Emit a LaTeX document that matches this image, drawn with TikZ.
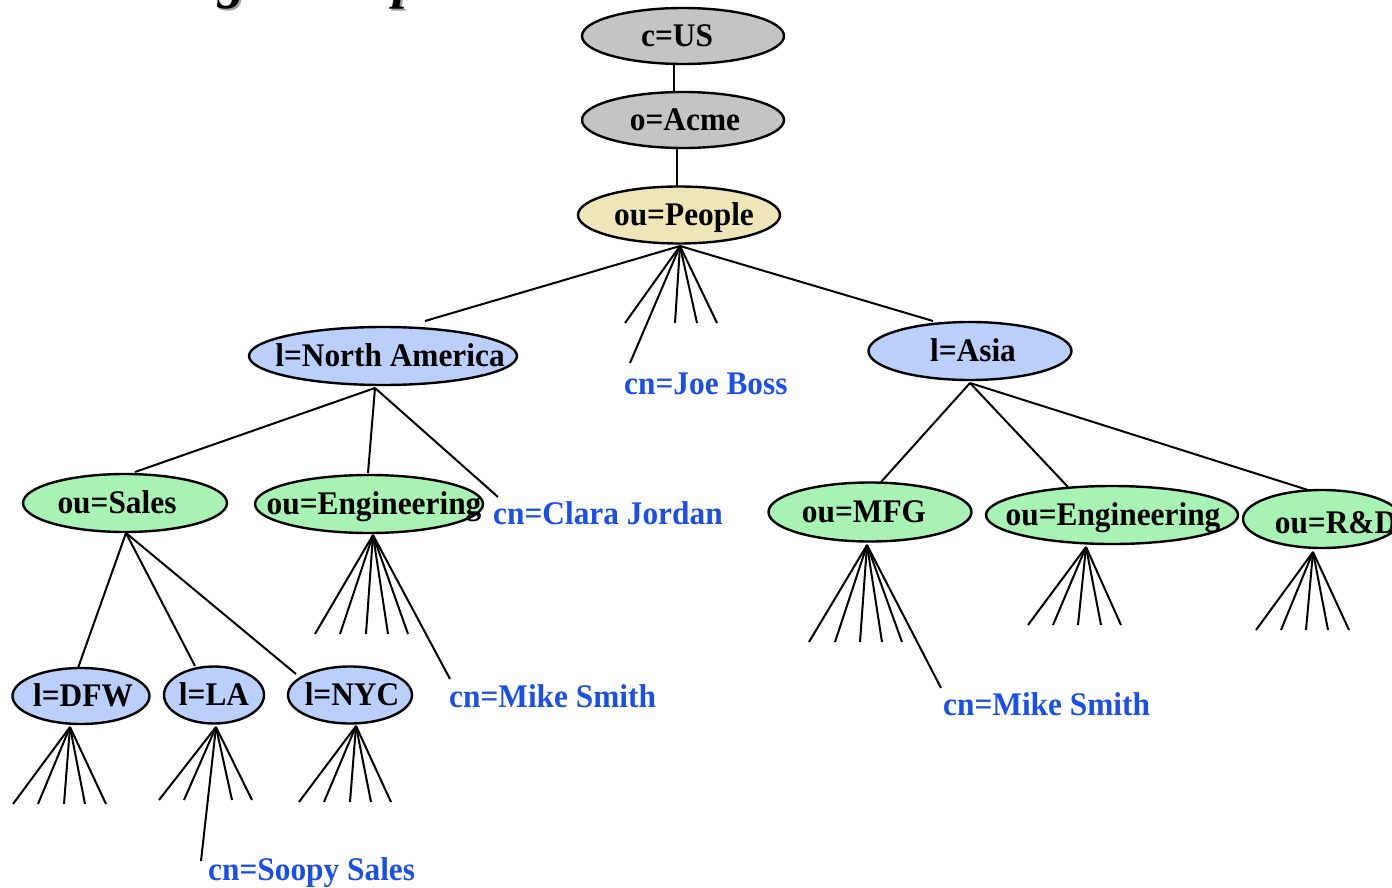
\documentclass[tikz,border=0pt]{standalone}
\usepackage{fontspec}
\setmainfont{Liberation Serif}
\newfontfamily\lblfont[FakeStretch=0.95]{Liberation Serif}
\usetikzlibrary{shapes.geometric}
\definecolor{grayfill}{HTML}{C4C4C4}
\definecolor{beigefill}{HTML}{EEE6B9}
\definecolor{bluefill}{HTML}{BBCFFB}
\definecolor{greenfill}{HTML}{A8F2B4}
\definecolor{leafblue}{HTML}{1A4FE8}
\definecolor{shadowgray}{HTML}{A0A0A0}
\begin{document}
\begin{tikzpicture}[x=1pt,y=-1pt,
  ell/.style={ellipse, draw=black, line width=2.4pt, inner sep=0pt,
    text height=21.8pt, text depth=0pt, font=\fontsize{33}{38}\lblfont\bfseries},
  lbl/.style={inner sep=0pt, text height=21.8pt, text depth=0pt,
    font=\fontsize{33}{38}\lblfont\bfseries},
  leaf/.style={anchor=west, inner sep=0pt, text=leafblue, text height=21.8pt,
    text depth=0pt, font=\fontsize{33}{38}\lblfont\bfseries},
  conn/.style={line width=2pt},
  titlefont/.style={anchor=base west, inner sep=0pt,
    font=\fontsize{55}{60}\selectfont\bfseries\itshape}]
\useasboundingbox (0,0) rectangle (1392,888);

% title (only its lower part is visible)
\node[titlefont, text=shadowgray] (titleshadow) at (64,0) {Naming Example};
\node[titlefont] (title) at (62,-2) {Naming Example};

% ---------- connectors ----------
\coordinate (usB) at (674,64);   \coordinate (acT) at (674,96);
\coordinate (acB) at (677,148);  \coordinate (peT) at (677,186);
\draw[conn] (usB) -- (acT);
\draw[conn] (acB) -- (peT);

% People fan
\coordinate (pA) at (680,246);
\coordinate (naT) at (425,321);
\coordinate (asT) at (933,321);
\coordinate (joe) at (630,363);
\draw[conn] (pA) -- (naT);
\draw[conn] (pA) -- (asT);
\draw[conn] (pA) -- (joe);
\foreach \x [count=\i] in {625,675,697,717} {
  \coordinate (pf\i) at (\x,323);
  \draw[conn] (pA) -- (pf\i);
}

% North America
\coordinate (naA) at (375,388);
\coordinate (saT) at (135,472);
\coordinate (enT) at (368,473);
\coordinate (clara) at (498,497);
\draw[conn] (naA) -- (saT);
\draw[conn] (naA) -- (enT);
\draw[conn] (naA) -- (clara);

% Sales
\coordinate (saA) at (126,533);
\coordinate (dfwT) at (78,668);
\coordinate (laT) at (195,666);
\coordinate (nycT) at (296,674);
\draw[conn] (saA) -- (dfwT);
\draw[conn] (saA) -- (laT);
\draw[conn] (saA) -- (nycT);

% Engineering (NA) fan
\coordinate (enA) at (373,535);
\coordinate (mike1) at (450,679);
\draw[conn] (enA) -- (mike1);
\foreach \x [count=\i] in {315,340,366,388,408} {
  \coordinate (ef\i) at (\x,634);
  \draw[conn] (enA) -- (ef\i);
}

% DFW, LA, NYC fans
\coordinate (dfwA) at (70,727);
\foreach \x [count=\i] in {13,38,64,85,106} {
  \coordinate (df\i) at (\x,804);
  \draw[conn] (dfwA) -- (df\i);
}
\coordinate (laA) at (216,727);
\coordinate (soopy) at (201,861);
\draw[conn] (laA) -- (soopy);
\foreach \x [count=\i] in {159,184,232,252} {
  \coordinate (lf\i) at (\x,800);
  \draw[conn] (laA) -- (lf\i);
}
\coordinate (nycA) at (356,726);
\foreach \x [count=\i] in {299,324,350,371,391} {
  \coordinate (nf\i) at (\x,802);
  \draw[conn] (nycA) -- (nf\i);
}

% Asia
\coordinate (asA) at (970,383);
\coordinate (mfgT) at (881,482);
\coordinate (eaT) at (1068,487);
\coordinate (rdT) at (1308,490);
\draw[conn] (asA) -- (mfgT);
\draw[conn] (asA) -- (eaT);
\draw[conn] (asA) -- (rdT);

% MFG fan
\coordinate (mfA) at (867,545);
\coordinate (mike2) at (941,688);
\draw[conn] (mfA) -- (mike2);
\foreach \x [count=\i] in {809,835,860,882,902} {
  \coordinate (mf\i) at (\x,642);
  \draw[conn] (mfA) -- (mf\i);
}
% Engineering (Asia) fan
\coordinate (eaA) at (1086,547);
\foreach \x [count=\i] in {1028,1053,1078,1101,1121} {
  \coordinate (ea\i) at (\x,625);
  \draw[conn] (eaA) -- (ea\i);
}
% R&D fan
\coordinate (rdA) at (1313,552);
\foreach \x [count=\i] in {1256,1281,1306,1328,1349} {
  \coordinate (rf\i) at (\x,630);
  \draw[conn] (rdA) -- (rf\i);
}

% ---------- ellipses ----------
\node[ell, fill=grayfill, minimum width=202pt, minimum height=56pt] (us) at (683,36) {\makebox[0pt]{\hspace*{-12pt}c=US}};
\node[ell, fill=grayfill, minimum width=202pt, minimum height=56pt] (acme) at (683,120) {\makebox[0pt]{\hspace*{4pt}o=Acme}};
\node[ell, fill=beigefill, minimum width=202pt, minimum height=57pt] (people) at (679,215) {\makebox[0pt]{\hspace*{10pt}ou=People}};
\node[ell, fill=bluefill, minimum width=268pt, minimum height=58pt] (na) at (383,356) {\makebox[0pt]{\hspace*{14pt}l=North America}};
\node[ell, fill=bluefill, minimum width=203pt, minimum height=58pt] (asia) at (970,351) {\makebox[0pt]{\hspace*{6pt}l=Asia}};
\node[ell, fill=greenfill, minimum width=204pt, minimum height=58pt] (sales) at (125,503) {\makebox[0pt]{\hspace*{-16pt}ou=Sales}};
\node[ell, fill=greenfill, minimum width=228pt, minimum height=58pt] (engna) at (369,504) {\makebox[0pt]{\hspace*{10pt}ou=Engineering}};
\node[ell, fill=greenfill, minimum width=203pt, minimum height=59pt] (mfg) at (870,512) {\makebox[0pt]{\hspace*{-12pt}ou=MFG}};
\node[ell, fill=greenfill, minimum width=252pt, minimum height=58pt] (engas) at (1112,515) {\makebox[0pt]{\hspace*{2pt}ou=Engineering}};
\node[ell, fill=greenfill, minimum width=158pt, minimum height=58pt] (rd) at (1322,519) {};
\node[lbl] (rdtext) at (1336,523) {ou=R\&D};
\node[ell, fill=bluefill, minimum width=137pt, minimum height=56pt] (dfw) at (81,696) {\makebox[0pt]{\hspace*{4pt}l=DFW}};
\node[ell, fill=bluefill, minimum width=100pt, minimum height=57pt] (la) at (214,695) {\makebox[0pt]{l=LA}};
\node[ell, fill=bluefill, minimum width=124pt, minimum height=57pt] (nyc) at (350,695) {\makebox[0pt]{\hspace*{4pt}l=NYC}};

% ---------- leaf entries ----------
\node[leaf] (joeboss) at (624,384) {cn=Joe Boss};
\node[leaf] (clarajordan) at (493,514) {cn=Clara Jordan};
\node[leaf] (mikesmith1) at (449,697) {cn=Mike Smith};
\node[leaf] (mikesmith2) at (943,705) {cn=Mike Smith};
\node[leaf] (soopysales) at (208,870) {cn=Soopy Sales};
\end{tikzpicture}
\end{document}
